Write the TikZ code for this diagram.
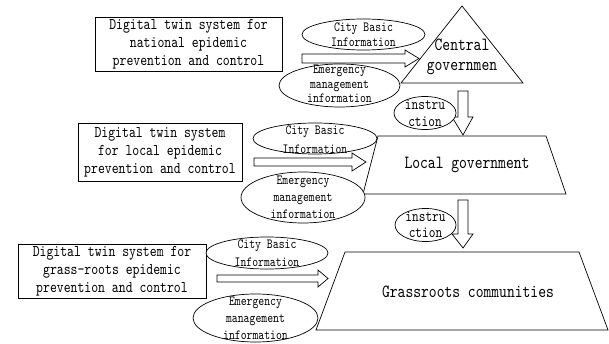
\documentclass[tikz,border=0pt]{standalone}
\usepackage{fontspec}
\newfontfamily\dtfont{lmmono10-regular.otf}[FakeStretch=0.8]
\usetikzlibrary{shapes.geometric}
\begin{document}
\begin{tikzpicture}[x=1pt,y=-1pt,line width=0.7pt,line join=miter,
  sysbox/.style={draw,fill=white,inner sep=0pt,align=center,
    font=\dtfont\fontsize{16.4}{18}\selectfont},
  info/.style={draw,ellipse,fill=white,inner sep=0pt},
  infotext/.style={inner sep=0pt,align=center,
    font=\dtfont\fontsize{14}{#1}\selectfont},
  insttext/.style={inner sep=0pt,align=center,
    font=\dtfont\fontsize{15.9}{#1}\selectfont},
  govtext/.style={inner sep=0pt,align=center,
    font=\dtfont\fontsize{18.6}{20}\selectfont},
  blockarrow/.style={draw,fill=white}]
\useasboundingbox (0,0) rectangle (609,344);

% system boxes
\node[sysbox,minimum width=187pt,minimum height=54pt] (sys1) at (188.5,44)
  {Digital twin system for\\national epidemic\\prevention and control};
\node[sysbox,minimum width=164pt,minimum height=58pt] (sys2) at (160,152)
  {Digital twin system\\for local epidemic\\prevention and control};
\node[sysbox,minimum width=188pt,minimum height=54pt] (sys3) at (112,271)
  {Digital twin system for\\grass-roots epidemic\\prevention and control};

% government shapes
\coordinate (cg) at (462,57);
\draw (462,6) -- (523,83) -- (401,83) -- cycle;
\coordinate (lg) at (467,165);
\draw (378,136) -- (546,136) -- (566,194) -- (363,194) -- cycle;
\coordinate (gc) at (468,292);
\draw (345,252) -- (579,252) -- (608,330) -- (316,330) -- cycle;

% horizontal block arrows
\draw[blockarrow] (302,54) -- (405,54) -- (405,50) -- (419,58.5) -- (405,67) -- (405,63) -- (302,63) -- cycle;
\draw[blockarrow] (254,158) -- (352,158) -- (352,153) -- (366,162) -- (352,171) -- (352,166) -- (254,166) -- cycle;
\draw[blockarrow] (217,275) -- (318,275) -- (318,270) -- (328,278.5) -- (318,287) -- (318,282) -- (217,282) -- cycle;

% vertical block arrows
\draw[blockarrow] (458,91) -- (468,91) -- (468,117) -- (473,117) -- (463,135) -- (452,117) -- (458,117) -- cycle;
\draw[blockarrow] (458,200) -- (468,200) -- (468,234) -- (473,234) -- (463,248) -- (452,234) -- (458,234) -- cycle;

% information ellipses
\node[info,minimum width=123pt,minimum height=31pt] (city1) at (363.5,34.5) {};
\node[infotext=15] at (city1) {City Basic\\Information};
\node[info,minimum width=121pt,minimum height=43pt] (emer1) at (339.5,85.5) {};
\node[infotext=14.5] at ([yshift=1.5]emer1.center) {Emergency\\management\\information};

\node[info,minimum width=124pt,minimum height=31pt] (city2) at (315,138.5) {};
\node[infotext=19] at ([yshift=-1]city2.center) {City Basic\\Information};
\node[info,minimum width=124pt,minimum height=51pt] (emer2) at (303,197.5) {};
\node[infotext=17] at (emer2) {Emergency\\management\\information};

\node[info,minimum width=122pt,minimum height=32pt] (city3) at (267,253) {};
\node[infotext=18] at (city3) {City Basic\\Information};
\node[info,minimum width=125pt,minimum height=48pt] (emer3) at (255.5,318) {};
\node[infotext=17] at (emer3) {Emergency\\management\\information};

% instruction ellipses
\node[info,minimum width=62pt,minimum height=33pt] (inst1) at (425,113) {};
\node[insttext=17] at (inst1) {instru\\ction};
\node[info,minimum width=61pt,minimum height=33pt] (inst2) at (425.5,225) {};
\node[insttext=16] at (inst2) {instru\\ction};

% government labels
\node[govtext] (cgt) at (cg) {Central\\governmen};
\node[govtext] (lgt) at (lg) {Local government};
\node[govtext] (gct) at (gc) {Grassroots communities};
\end{tikzpicture}
\end{document}
